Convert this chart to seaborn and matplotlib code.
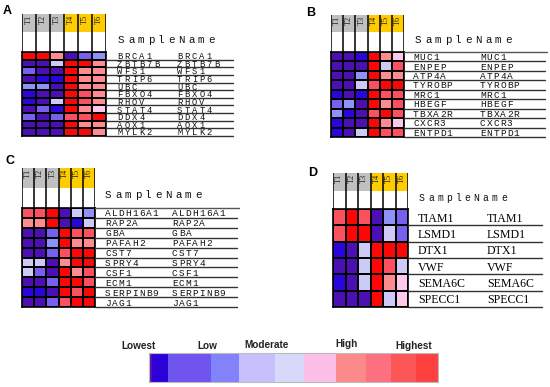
import numpy as np
import pandas as pd
import matplotlib
matplotlib.use("Agg")
import matplotlib.pyplot as plt
import seaborn as sns
from matplotlib.colors import ListedColormap

# ------------------------------------------------------------------
# datos: niveles de expresión (0 = más bajo ... 8 = más alto)
# ------------------------------------------------------------------
samples = ["T1", "T2", "T3", "T4", "T5", "T6"]
sample_groups = [0, 0, 0, 1, 1, 1]   # 0 = gris, 1 = amarillo

genes_a = ["BRCA1", "ZBTB7B", "WFS1", "TRIP6", "UBC", "FBXO4",
           "RHOV", "STAT4", "DDX4", "AOX1", "MYLK2"]
levels_a = [[8, 8, 6, 0, 2, 3],
            [0, 0, 4, 8, 8, 6],
            [2, 0, 0, 8, 6, 6],
            [0, 1, 1, 8, 6, 6],
            [3, 3, 0, 8, 6, 6],
            [1, 0, 0, 8, 7, 6],
            [1, 0, 4, 8, 7, 6],
            [0, 2, 1, 8, 6, 5],
            [2, 0, 2, 7, 7, 8],
            [0, 0, 0, 8, 6, 6],
            [0, 0, 0, 8, 8, 6]]

genes_b = ["MUC1", "ENPEP", "ATP4A", "TYROBP", "MRC1", "HBEGF",
           "TBXA2R", "CXCR3", "ENTPD1"]
levels_b = [[0, 0, 1, 8, 6, 5],
            [0, 0, 0, 8, 4, 7],
            [0, 0, 3, 8, 6, 6],
            [0, 0, 4, 7, 8, 8],
            [1, 0, 1, 8, 7, 7],
            [2, 3, 0, 8, 6, 7],
            [3, 1, 0, 7, 8, 7],
            [1, 0, 0, 8, 6, 5],
            [1, 0, 4, 8, 7, 7]]

genes_c = ["ALDH16A1", "RAP2A", "GBA", "PAFAH2", "CST7", "SPRY4",
           "CSF1", "ECM1", "SERPINB9", "JAG1"]
levels_c = [[7, 7, 8, 0, 4, 3],
            [6, 6, 8, 0, 1, 4],
            [0, 0, 2, 8, 7, 7],
            [0, 0, 3, 8, 6, 6],
            [0, 0, 2, 7, 8, 8],
            [4, 4, 0, 6, 8, 8],
            [4, 2, 0, 8, 6, 7],
            [0, 0, 2, 8, 8, 7],
            [1, 1, 0, 8, 7, 8],
            [0, 0, 2, 7, 8, 8]]

genes_d = ["TIAM1", "LSMD1", "DTX1", "VWF", "SEMA6C", "SPECC1"]
levels_d = [[7, 8, 7, 0, 3, 2],
            [7, 8, 8, 0, 4, 2],
            [1, 0, 4, 8, 8, 8],
            [0, 0, 4, 8, 7, 4],
            [1, 0, 4, 8, 6, 5],
            [0, 0, 0, 8, 4, 5]]

legend_labels = ["Lowest", "Low", "Moderate", "High", "Highest"]
legend_steps = [0, 1, 2, 3, 4, 5, 6, 7, 8, 9, 10]
legend_step_widths = [3, 16, 43, 28, 36, 29, 32, 30, 25, 25, 22]

# ------------------------------------------------------------------
# estilos
# ------------------------------------------------------------------
cell_colors = ["#4b0fb4", "#2a05dc", "#7860ee", "#8e92f6", "#cdcaf8",
               "#fcc8ec", "#fc8c90", "#fc5060", "#fc0606"]
legend_colors = ["#5a10b0", "#2c00d8", "#6f55ee", "#8282fa", "#c8c0fc",
                 "#d8d8fa", "#fcc0e8", "#fc8a8a", "#fc7080", "#fc5656",
                 "#fe4040"]
group_colors = ["#c0c0c0", "#ffcc00"]

W, H = 550, 387
sns.set_theme(style="white")
plt.rcParams["font.family"] = ["Liberation Sans", "DejaVu Sans"]
fig = plt.figure(figsize=(W / 100, H / 100), dpi=100)


def px_axes(x0, y0, x1, y1):
    """Crea un eje usando coordenadas en píxeles (origen arriba-izquierda)."""
    return fig.add_axes([x0 / W, 1 - y1 / H, (x1 - x0) / W, (y1 - y0) / H])


def spaced(x, y, s, pitch, size, family="Liberation Mono", **kw):
    """Texto con espaciado fijo entre caracteres (en píxeles de figura)."""
    for i, ch in enumerate(s):
        fig.text((x + i * pitch) / W, 1 - y / H, ch, fontsize=size,
                 family=family, ha="left", va="center", color="#111111", **kw)


panels = [
    dict(letter="A", lx=3, ly=11, genes=genes_a, levels=levels_a,
         x0=22, x1=106, htop=14, hbot=32, rtop=52, rbot=136,
         lab1=117, lab2=177, lend=233, sx=118, sy=40, top_line=False,
         pitch=7.4, fs=6.3, serif=False),
    dict(letter="B", lx=306, ly=13, genes=genes_b, levels=levels_b,
         x0=331, x1=404, htop=15, hbot=32, rtop=52, rbot=137,
         lab1=413, lab2=480, lend=545, sx=415, sy=40, top_line=True,
         pitch=6.7, fs=6.8, serif=False),
    dict(letter="C", lx=5, ly=161, genes=genes_c, levels=levels_c,
         x0=22, x1=95, htop=168, hbot=188, rtop=208, rbot=307,
         lab1=105, lab2=172, lend=237, sx=105, sy=195, top_line=True,
         pitch=6.8, fs=6.8, serif=False),
    dict(letter="D", lx=308, ly=173, genes=genes_d, levels=levels_d,
         x0=333, x1=408, htop=173, hbot=191, rtop=209, rbot=307,
         lab1=418, lab2=487, lend=542, sx=419, sy=198, top_line=False,
         pitch=6.4, fs=8.6, serif=True),
]

cmap_cells = ListedColormap(cell_colors)

for p in panels:
    # letra del panel
    fig.text(p["lx"] / W, 1 - p["ly"] / H, p["letter"], fontsize=9,
             fontweight="bold", ha="left", va="center", color="black")

    # cabecera con grupos de muestras
    hax = px_axes(p["x0"], p["htop"], p["x1"], p["rtop"])
    ncol = len(samples)
    hh = p["hbot"] - p["htop"]
    hax.bar(np.arange(ncol), hh, width=1.0, align="edge", bottom=0,
            color=[group_colors[g] for g in sample_groups], linewidth=0)
    hax.set_xlim(0, ncol)
    hax.set_ylim(p["rtop"] - p["htop"], 0)
    for xv in range(ncol + 1):
        hax.axvline(xv, color="black", lw=1.1)
    for i, s in enumerate(samples):
        hax.text(i + 0.5, 1, s, rotation=90, ha="center", va="top",
                 fontsize=6, family="Liberation Serif", color="#222222")
    hax.set_axis_off()

    # mapa de calor
    df = pd.DataFrame(p["levels"], index=p["genes"], columns=samples)
    ax = px_axes(p["x0"], p["rtop"], p["x1"], p["rbot"])
    sns.heatmap(df, cmap=cmap_cells, vmin=-0.5, vmax=8.5, cbar=False,
                linewidths=1.2, linecolor="black", ax=ax,
                xticklabels=False, yticklabels=False)
    for sp in ax.spines.values():
        sp.set_visible(True)
        sp.set_color("black")
        sp.set_linewidth(1.2)
    ax.set_xlabel("")
    ax.set_ylabel("")

    # nombres de genes y líneas
    nrow = len(p["genes"])
    rh = (p["rbot"] - p["rtop"]) / nrow
    lax = px_axes(p["x1"], p["rtop"], p["lend"], p["rbot"])
    lax.set_xlim(0, p["lend"] - p["x1"])
    lax.set_ylim(nrow, 0)
    lax.set_axis_off()
    for r in range(nrow):
        lax.plot([0, p["lend"] - p["x1"]], [r + 1, r + 1], color="#333333",
                 lw=1.0, clip_on=False)
    if p["top_line"]:
        lax.plot([0, p["lend"] - p["x1"] + 2], [0, 0], color="#555555",
                 lw=1.0, clip_on=False)

    for r, g in enumerate(p["genes"]):
        yc = p["rtop"] + (r + 0.6) * rh
        if p["serif"]:
            for xl in (p["lab1"], p["lab2"]):
                fig.text(xl / W, 1 - yc / H, g, fontsize=p["fs"],
                         family=["DejaVu Serif Condensed", "Liberation Serif"],
                         ha="left", va="center", color="#000000")
        else:
            spaced(p["lab1"], yc, g, p["pitch"], p["fs"])
            spaced(p["lab2"], yc, g, p["pitch"], p["fs"])

    pitch_title = 9.1 if p["serif"] else 10.0
    spaced(p["sx"], p["sy"], "SampleName", pitch_title,
           7.0 if p["serif"] else 7.8)

# ------------------------------------------------------------------
# leyenda de colores
# ------------------------------------------------------------------
legend_row = np.repeat(legend_steps, legend_step_widths)[None, :]
cax = px_axes(149, 353, 438, 382)
sns.heatmap(legend_row, cmap=ListedColormap(legend_colors), vmin=-0.5,
            vmax=len(legend_colors) - 0.5, cbar=False, ax=cax,
            xticklabels=False, yticklabels=False)
for sp in cax.spines.values():
    sp.set_visible(True)
    sp.set_color("#bbbbbb")
    sp.set_linewidth(0.8)

legend_x = [139, 207, 267, 346, 414]
legend_y = [346, 346, 345, 344, 346]
for lab, xl, yl in zip(legend_labels, legend_x, legend_y):
    fig.text(xl / W, 1 - yl / H, lab, fontsize=7.2, fontweight="bold",
             ha="center", va="center", color="#222222")

fig.savefig("out.png", dpi=100)
